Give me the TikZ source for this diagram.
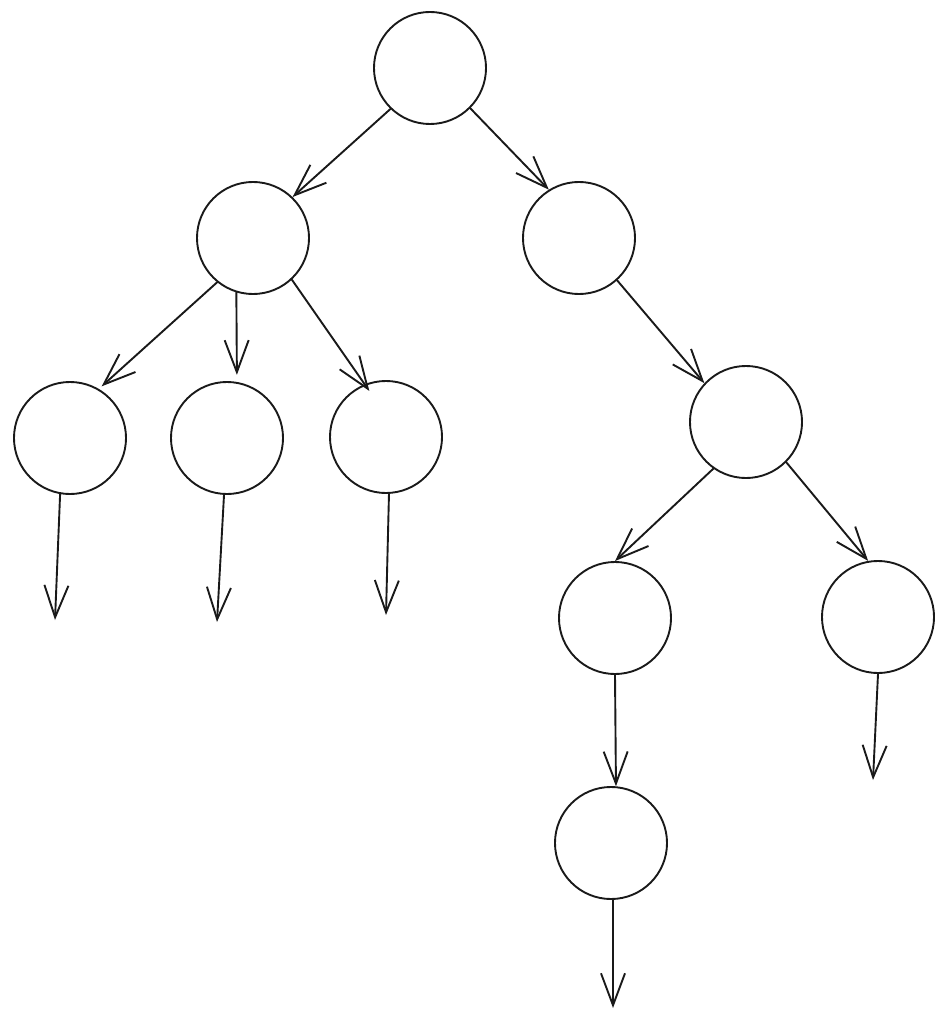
\documentclass[tikz,border=0pt]{standalone}
\usetikzlibrary{arrows.meta}

\begin{document}
\begin{tikzpicture}[x=0.025cm, y=-0.025cm]
  \tikzstyle{myline}=[black!90, line width=1.35pt, line cap=round, line join=round];
  \tikzstyle{vert}=[myline, draw, circle, minimum size=2.8cm, inner sep=0pt];
  \tikzstyle{edge}=[myline, -{Straight Barb[length=0.8cm, width=0.6cm, line width=1.35pt]}];
  \useasboundingbox (0, 0) rectangle (949, 1024);
  %
  % vertices
  \node[vert] (root) at (430, 68) {};
  \node[vert] (left) at (253, 238) {};
  \node[vert] (right) at (579, 238) {};
  \node[vert] (leftA) at (70, 438) {};
  \node[vert] (leftB) at (227, 438) {};
  \node[vert] (leftC) at (386, 437) {};
  \node[vert] (mid) at (746, 422) {};
  \node[vert] (midA) at (615, 618) {};
  \node[vert] (midB) at (878, 617) {};
  \node[vert] (low) at (611, 843) {};
  %
  % free ends of the dangling arrows
  \coordinate (endA) at (55, 620);
  \coordinate (endB) at (217, 622);
  \coordinate (endC) at (386, 615);
  \coordinate (endD) at (873, 780);
  \coordinate (endE) at (613, 1008);
  %
  % edges
  \draw[edge] (root.-134) -- (left.46);
  \draw[edge] (root.-45) -- (right.122);
  \draw[edge] (left.-129) -- ([shift={(-1, -5)}]leftA.55);
  \draw[edge] (left.-107) -- ([yshift=5]leftB.80);
  \draw[edge] (left.-47) -- ([yshift=-6]leftC.107);
  \draw[edge] (right.-48) -- (mid.137);
  \draw[edge] (mid.-125) -- (midA.90);
  \draw[edge] (mid.-45) -- (midB.100);
  \draw[edge] (midA.-90) -- (low.85);
  %
  % dangling arrows
  \draw[edge] (leftA.-100) -- (endA);
  \draw[edge] (leftB.-93) -- (endB);
  \draw[edge] (leftC.-87) -- (endC);
  \draw[edge] (midB.-90) -- (endD);
  \draw[edge] (low.-88) -- (endE);
\end{tikzpicture}
\end{document}
